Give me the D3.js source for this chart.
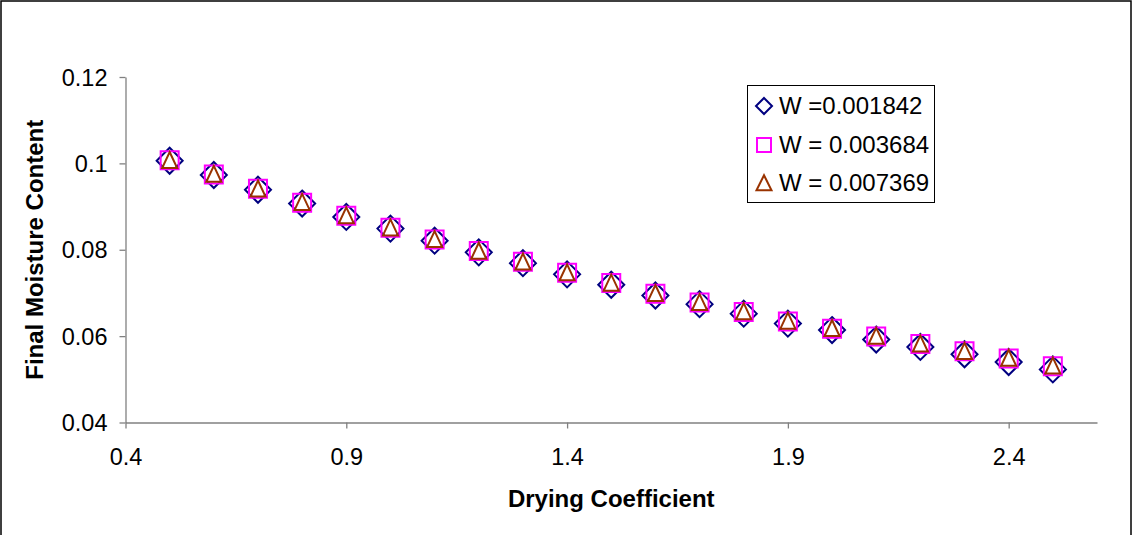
<!DOCTYPE html>
<html>
<head>
<meta charset="utf-8">
<script src="https://cdn.jsdelivr.net/npm/d3@7"></script>
<style>
  html, body { margin: 0; padding: 0; background: #fff; }
  svg { display: block; }
  text { font-family: "Liberation Sans", Arial, sans-serif; }
</style>
</head>
<body>
<svg id="chart" width="1133" height="535"></svg>
<script>
// ---- data ----
const dryingCoef = [0.5,0.6,0.7,0.8,0.9,1.0,1.1,1.2,1.3,1.4,1.5,1.6,1.7,1.8,1.9,2.0,2.1,2.2,2.3,2.4,2.5];
const seriesW1 = [0.1006,0.0973,0.0939,0.0907,0.0876,0.0849,0.0821,0.0794,0.0769,0.0743,0.0719,0.0694,0.0674,0.0652,0.0629,0.0614,0.0592,0.0575,0.0558,0.0540,0.0523];
const seriesW2 = [0.1007,0.0974,0.0941,0.0909,0.0879,0.0851,0.0824,0.0797,0.0772,0.0747,0.0723,0.0698,0.0678,0.0656,0.0634,0.0617,0.0599,0.0582,0.0565,0.0548,0.0530];
const seriesW3 = [0.1007,0.0975,0.0941,0.0910,0.0879,0.0851,0.0824,0.0797,0.0772,0.0747,0.0723,0.0699,0.0678,0.0657,0.0635,0.0618,0.0600,0.0582,0.0565,0.0549,0.0531];
const seriesNames = ["W =0.001842", "W = 0.003684", "W = 0.007369"];
const xTicks = [0.4, 0.9, 1.4, 1.9, 2.4];
const yTicks = [0.04, 0.06, 0.08, 0.1, 0.12];
const xTitle = "Drying Coefficient";
const yTitle = "Final Moisture Content";

// ---- layout ----
const svg = d3.select("#chart");
const pLeft = 125.5, pRight = 1097, pTop = 77, pBottom = 422.5;
const x = d3.scaleLinear().domain([0.4, 2.6]).range([pLeft, pRight]);
const y = d3.scaleLinear().domain([0.04, 0.12]).range([pBottom, pTop]);

// outer border
svg.append("rect").attr("x", 1).attr("y", 1).attr("width", 1130).attr("height", 540)
  .attr("fill", "#fff").attr("stroke", "#000").attr("stroke-width", 1.5);

const axisColor = "#808080";
const fontSize = 23.5;

// x axis
const gx = svg.append("g").attr("transform", `translate(0,${pBottom})`)
  .call(d3.axisBottom(x).tickValues(xTicks).tickFormat(d3.format("")).tickSize(6).tickSizeOuter(0).tickPadding(20));
// y axis
const gy = svg.append("g").attr("transform", `translate(${pLeft},0)`)
  .call(d3.axisLeft(y).tickValues(yTicks).tickFormat(d => String(+d.toFixed(2))).tickSize(6).tickSizeOuter(0).tickPadding(12));
[gx, gy].forEach(g => {
  g.select(".domain").attr("stroke", axisColor).attr("stroke-width", 1.3);
  g.selectAll(".tick line").attr("stroke", axisColor).attr("stroke-width", 1.3);
  g.selectAll(".tick text").attr("fill", "#000").style("font-size", fontSize + "px")
    .style("font-family", "'Liberation Sans', Arial, sans-serif");
});
gy.selectAll(".tick text").attr("dy", "0.35em");

// axis titles
svg.append("text").attr("x", (pLeft + pRight) / 2).attr("y", 507)
  .attr("text-anchor", "middle").style("font-size", "24px").style("font-weight", "bold")
  .text(xTitle);
svg.append("text").attr("transform", `translate(43,${(pTop + pBottom) / 2}) rotate(-90)`)
  .attr("text-anchor", "middle").style("font-size", "24px").style("font-weight", "bold")
  .text(yTitle);

// marker shapes
const diamond = s => `M0,${-s}L${s},0L0,${s}L${-s},0Z`;
const square = s => `M${-s},${-s}H${s}V${s}H${-s}Z`;
const triangle = (w, h) => `M0,${-h * 0.52}L${w / 2},${h * 0.48}L${-w / 2},${h * 0.48}Z`;

const series = [
  { vals: seriesW1, color: "#000080", path: diamond(13), lpath: diamond(8) },
  { vals: seriesW2, color: "#FF00FF", path: square(9), lpath: square(7) },
  { vals: seriesW3, color: "#993300", path: triangle(15, 16), lpath: triangle(15, 15) }
];

series.forEach(s => {
  svg.append("g").selectAll("path").data(dryingCoef).join("path")
    .attr("transform", (d, i) => `translate(${x(d)},${y(s.vals[i])})`)
    .attr("d", s.path).attr("fill", "none")
    .attr("stroke", s.color).attr("stroke-width", 2);
});

// legend
const lg = svg.append("g").attr("transform", "translate(747,85)");
lg.append("rect").attr("x", 0.5).attr("y", 0.5).attr("width", 187).attr("height", 117)
  .attr("fill", "#fff").attr("stroke", "#000").attr("stroke-width", 1);
const rowY = [21, 60, 98];
series.forEach((s, i) => {
  lg.append("path").attr("transform", `translate(17,${rowY[i]})`)
    .attr("d", s.lpath).attr("fill", "none").attr("stroke", s.color).attr("stroke-width", 2);
  lg.append("text").attr("x", 32).attr("y", rowY[i] + 6)
    .attr("dy", "0.1em").style("font-size", "24px").text(seriesNames[i]);
});
</script>
</body>
</html>
